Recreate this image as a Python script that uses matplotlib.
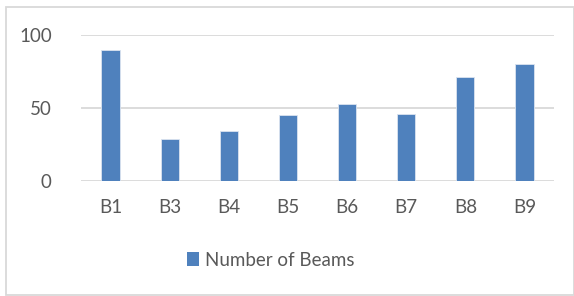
import matplotlib
matplotlib.use('Agg')
import matplotlib.pyplot as plt
from matplotlib.patches import Rectangle, Patch

beams = ['B1', 'B3', 'B4', 'B5', 'B6', 'B7', 'B8', 'B9']
num_beams = [90, 29, 34, 45, 53, 46, 71, 80]
y_ticks = [0, 50, 100]

plt.rcParams['font.family'] = ['Lato', 'DejaVu Sans']
text_color = '#595959'
bar_color = '#4f81bd'
grid_color = '#d9d9d9'

W, H = 574, 296
fig = plt.figure(figsize=(W / 100, H / 100), dpi=100)
ax = fig.add_axes([81 / W, (H - 181) / H, 473 / W, 146 / H])

x = list(range(len(beams)))
ax.bar(x, num_beams, width=0.31, color=bar_color, edgecolor='#dbe4f0',
       linewidth=0.6, zorder=3, label='Number of Beams')

ax.set_xlim(-0.5, len(beams) - 0.5)
ax.set_ylim(0, 100)
ax.set_yticks(y_ticks)
ax.set_xticks(x)
ax.set_xticklabels(beams)
ax.yaxis.grid(True, color=grid_color, linewidth=1.3, zorder=0)
ax.set_axisbelow(True)
for s in ax.spines.values():
    s.set_visible(False)
ax.tick_params(length=0, labelsize=13.5, colors=text_color)
ax.tick_params(axis='y', pad=21)
ax.tick_params(axis='x', pad=13)

# legend below the plot
handle = Patch(facecolor=bar_color, edgecolor='none')
fig.legend([handle], ['Number of Beams'], loc='center', bbox_to_anchor=(271 / W, 1 - 260 / H),
           frameon=False, fontsize=13.5, labelcolor=text_color,
           handlelength=0.6, handleheight=0.75, handletextpad=0.35)

# chart area border
fig.patches.append(Rectangle((6 / W, 1 / H), 1 - 6 / W, 1 - 8 / H, transform=fig.transFigure,
                             fill=False, edgecolor='#d9d9d9', linewidth=1.3))

fig.savefig('out.png', dpi=100)
